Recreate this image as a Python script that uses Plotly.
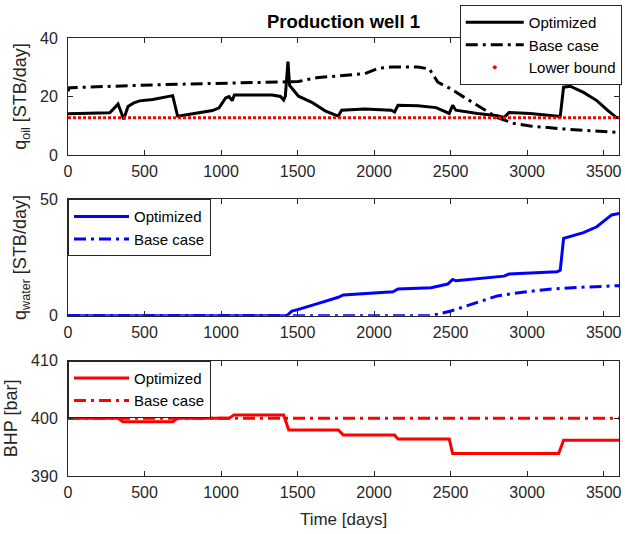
import plotly.graph_objects as go
from plotly.subplots import make_subplots

# ---------------- data ----------------
t_oil_opt = [0, 273, 327, 364, 392, 430, 468, 554, 684, 716, 727, 857, 944, 987, 1030, 1052, 1073,
             1087, 1204, 1333, 1388, 1409, 1420, 1437, 1448, 1506, 1593, 1680, 1745, 1766, 1788,
             1939, 2112, 2134, 2156, 2286, 2405, 2459, 2491, 2513, 2534, 2675, 2805, 2849, 2881,
             3021, 3195, 3216, 3238, 3281, 3368, 3455, 3530, 3584, 3600]
q_oil_opt = [14.1, 14.4, 17.4, 12.2, 16.6, 17.8, 18.5, 19.0, 20.3, 13.3, 13.3, 14.5, 15.2, 16.1,
             19.5, 20.0, 18.6, 20.5, 20.5, 20.5, 20.0, 18.8, 20.1, 31.9, 23.8, 20.1, 18.0, 15.1,
             13.7, 13.3, 15.3, 15.7, 15.3, 14.7, 17.0, 16.8, 16.2, 15.1, 14.2, 17.0, 15.3, 14.2,
             13.4, 12.8, 14.5, 14.2, 13.4, 13.2, 23.2, 23.5, 21.4, 18.6, 15.1, 12.8, 12.7]

t_oil_base = [0, 10, 641, 1398, 1506, 1560, 1636, 1766, 1939, 2026, 2112, 2286, 2361, 2416, 2502,
              2589, 2697, 2805, 2913, 3021, 3238, 3455, 3600]
q_oil_base = [21.8, 23.0, 24.1, 24.9, 25.1, 25.8, 26.5, 27.0, 27.8, 29.6, 30.1, 30.1, 29.4, 24.9,
              22.6, 19.7, 16.2, 12.8, 10.8, 9.9, 8.9, 8.1, 7.7]

t_lower = [0, 3600]
q_lower = [12.7, 12.7]

t_wat_opt = [0, 1431, 1463, 1506, 1636, 1766, 1799, 1939, 2123, 2156, 2372, 2481, 2513, 2535,
             2849, 2881, 3195, 3216, 3238, 3368, 3455, 3552, 3595, 3600]
q_wat_opt = [0, 0, 2.0, 2.7, 5.3, 7.9, 8.9, 9.6, 10.3, 11.5, 12.0, 13.6, 15.6, 15.0, 17.0, 17.9,
             18.9, 19.5, 33.2, 35.7, 38.2, 43.3, 43.9, 43.9]

t_wat_base = [0, 2372, 2502, 2654, 2805, 2913, 3130, 3346, 3600]
q_wat_base = [0, 0, 2.0, 5.3, 8.5, 9.6, 11.3, 12.2, 12.9]

t_bhp_opt = [0, 327, 359, 684, 716, 1052, 1084, 1409, 1442, 1766, 1799, 2134, 2156, 2491, 2513,
             3206, 3238, 3600]
p_bhp_opt = [400, 400, 399.4, 399.4, 400, 400, 400.6, 400.6, 398.0, 398.0, 397.1, 397.1, 396.4,
             396.4, 393.9, 393.9, 396.2, 396.2]

t_bhp_base = [0, 3600]
p_bhp_base = [400, 400]

x_ticks = [0, 500, 1000, 1500, 2000, 2500, 3000, 3500]

# ---------------- figure ----------------
AX = "#262626"
FONT = "Liberation Sans, Arial, Helvetica, sans-serif"
DASHDOT = "12px,5px,3px,5px"

fig = make_subplots(rows=3, cols=1)

fig.add_trace(go.Scatter(x=t_oil_opt, y=q_oil_opt, mode="lines", name="Optimized",
                         line=dict(color="black", width=3), legend="legend"), row=1, col=1)
fig.add_trace(go.Scatter(x=t_oil_base, y=q_oil_base, mode="lines", name="Base case",
                         line=dict(color="black", width=3, dash=DASHDOT), legend="legend"), row=1, col=1)
fig.add_trace(go.Scatter(x=t_lower, y=q_lower, mode="lines", name="Lower bound", showlegend=False,
                         line=dict(color="red", width=3, dash="3px,2px")), row=1, col=1)
fig.add_trace(go.Scatter(x=[None], y=[None], mode="markers", name="Lower bound",
                         marker=dict(color="red", size=4), legend="legend"), row=1, col=1)

fig.add_trace(go.Scatter(x=t_wat_opt, y=q_wat_opt, mode="lines", name="Optimized",
                         line=dict(color="#0000FF", width=3), legend="legend2"), row=2, col=1)
fig.add_trace(go.Scatter(x=t_wat_base, y=q_wat_base, mode="lines", name="Base case",
                         line=dict(color="#0000FF", width=3, dash=DASHDOT), legend="legend2"), row=2, col=1)

fig.add_trace(go.Scatter(x=t_bhp_opt, y=p_bhp_opt, mode="lines", name="Optimized",
                         line=dict(color="#FF0000", width=3), legend="legend3"), row=3, col=1)
fig.add_trace(go.Scatter(x=t_bhp_base, y=p_bhp_base, mode="lines", name="Base case",
                         line=dict(color="#FF0000", width=3, dash=DASHDOT), legend="legend3"), row=3, col=1)

common_axis = dict(showline=True, linecolor=AX, linewidth=1, mirror="allticks", ticks="inside",
                   ticklen=5, tickcolor=AX, tickwidth=1, showgrid=False, zeroline=False,
                   tickfont=dict(size=16, color=AX, family=FONT))

doms = [[0.7329, 1.0], [0.366, 0.6317], [0.0, 0.2632]]
yranges = [[0, 40], [0, 50], [390, 410]]
yticks = [[0, 20, 40], [0, 50], [390, 400, 410]]
ytitles = ["q<sub>oil</sub> [STB/day]", "q<sub>water</sub> [STB/day]", "BHP [bar]"]

for i in range(3):
    xa = "xaxis" if i == 0 else f"xaxis{i+1}"
    ya = "yaxis" if i == 0 else f"yaxis{i+1}"
    fig.layout[xa].update(range=[0, 3600], tickvals=x_ticks, ticklabelstandoff=2, **common_axis)
    fig.layout[ya].update(domain=doms[i], range=yranges[i], tickvals=yticks[i],
                          ticklabelstandoff=6,
                          title=dict(text=ytitles[i], font=dict(size=18, color=AX, family=FONT),
                                     standoff=8), **common_axis)

fig.layout.xaxis3.title = dict(text="Time [days]", font=dict(size=17, color=AX, family=FONT), standoff=12)

leg_common = dict(bgcolor="white", bordercolor=AX, borderwidth=1, xanchor="left", yanchor="top",
                  font=dict(size=15, color="black", family=FONT), tracegroupgap=0)

fig.update_layout(
    width=625, height=534,
    margin=dict(l=68, r=3, t=38, b=58),
    paper_bgcolor="white", plot_bgcolor="white",
    font=dict(family=FONT, color=AX),
    title=dict(text="<b>Production well 1</b>", x=0.5, xref="paper", xanchor="center",
               y=1 - 22 / 534, yanchor="middle", font=dict(size=18.5, color="black", family=FONT)),
    legend=dict(x=0.711, y=1.0753, itemwidth=58, **leg_common),
    legend2=dict(x=0.0, y=0.6317, itemwidth=55, **leg_common),
    legend3=dict(x=0.0, y=0.2632, itemwidth=55, **leg_common),
)

fig.write_html("out.html")
